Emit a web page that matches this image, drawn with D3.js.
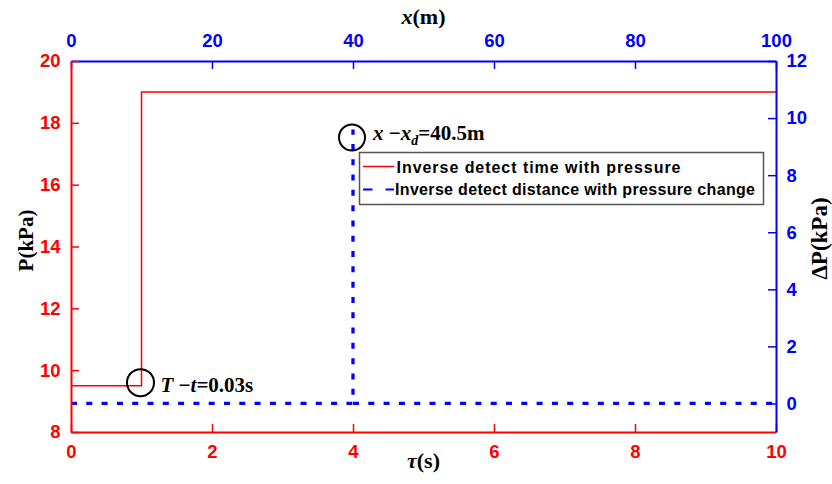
<!DOCTYPE html>
<html><head><meta charset="utf-8">
<script src="https://cdn.jsdelivr.net/npm/d3@7/dist/d3.min.js"></script>
<style>body{margin:0;background:#fff}svg{display:block}</style>
</head><body>
<svg id="c" width="832" height="484"></svg>
<script>
// ---- data ----
const tauValues = [0, 1, 1, 10];          // τ (s)
const pValues = [9.5, 9.5, 19, 19];       // P (kPa)
const distValues = [0, 40, 40, null, 40, 100];   // x (m)
const dpValues = [0, 0, 9.6, null, 0, 0];        // ΔP (kPa)
const tauTicks = [0, 2, 4, 6, 8, 10];
const tauMinor = [1, 3, 5, 7, 9];
const distTicks = [0, 20, 40, 60, 80, 100];
const distMinor = [10, 30, 50, 70, 90];
const pTicks = [8, 10, 12, 14, 16, 18, 20];
const pMinor = [9, 11, 13, 15, 17, 19];
const dpTicks = [0, 2, 4, 6, 8, 10, 12];
const dpMinor = [-1, 1, 3, 5, 7, 9, 11];
const legendLabels = ["Inverse detect time with pressure", "Inverse detect distance with pressure change"];

const RED = "#ff0000", BLUE = "#0000ff";
const L = 71, R = 776, T = 61, B = 432;
const svg = d3.select("#c");

const xTau = d3.scaleLinear().domain([0, 10]).range([L, R]);
const xM = d3.scaleLinear().domain([0, 100]).range([L, R]);
const yP = d3.scaleLinear().domain([8, 20]).range([B, T]);
const yD = d3.scaleLinear().domain([-1, 12]).range([B, T]);

const tickFont = "bold 18.5px 'Liberation Sans', Arial, sans-serif";

function drawAxis(axisFn, scale, ticks, minor, color, transform, pad) {
  const g = svg.append("g").attr("transform", transform);
  g.call(axisFn(scale).tickValues(minor).tickSize(-4).tickFormat(""));
  g.call(axisFn(scale).tickValues(ticks).tickSizeInner(-8).tickSizeOuter(0).tickPadding(pad).tickFormat(d3.format("d")));
  g.selectAll("path.domain").attr("stroke", color).attr("stroke-width", 2);
  g.selectAll(".tick line").attr("stroke", color).attr("stroke-width", 1.5);
  g.selectAll(".tick text").attr("fill", color).style("font", tickFont);
  return g;
}

// lines first (under axes)
const redLine = d3.line().x((d, i) => xTau(tauValues[i])).y((d, i) => yP(pValues[i]));
svg.append("path").attr("d", redLine(tauValues)).attr("fill", "none")
  .attr("stroke", RED).attr("stroke-width", 1.5);

const blueLine = d3.line().defined((d, i) => distValues[i] !== null)
  .x((d, i) => xM(distValues[i])).y((d, i) => yD(dpValues[i]));
svg.append("path").attr("d", blueLine(distValues)).attr("fill", "none")
  .attr("stroke", BLUE).attr("stroke-width", 3.3).attr("stroke-dasharray", "6,9.3");

drawAxis(d3.axisBottom, xTau, tauTicks, tauMinor, RED, `translate(0,${B})`, 12.5);
drawAxis(d3.axisTop, xM, distTicks, distMinor, BLUE, `translate(0,${T})`, 14.5);
drawAxis(d3.axisLeft, yP, pTicks, pMinor, RED, `translate(${L},0)`, 10.5);
drawAxis(d3.axisRight, yD, dpTicks, dpMinor, BLUE, `translate(${R},0)`, 10.5);

// axis titles
const serif = "'Liberation Serif', 'Times New Roman', serif";
const tx = svg.append("text").attr("x", (L + R) / 2).attr("y", 24).attr("text-anchor", "middle")
  .style("font-family", serif).style("font-weight", "bold").style("font-size", "22px");
tx.append("tspan").style("font-style", "italic").text("x");
tx.append("tspan").text("(m)");

const tt = svg.append("text").attr("x", (L + R) / 2).attr("y", 468).attr("text-anchor", "middle")
  .style("font-family", serif).style("font-weight", "bold").style("font-size", "22px");
tt.append("tspan").style("font-style", "italic").text("τ");
tt.append("tspan").text("(s)");

svg.append("text").attr("transform", `translate(33,${(T + B) / 2 - 6}) rotate(-90)`).attr("text-anchor", "middle")
  .style("font-family", serif).style("font-weight", "bold").style("font-size", "21px").text("P(kPa)");
svg.append("text").attr("transform", `translate(827,${(T + B) / 2 - 8}) rotate(-90)`).attr("text-anchor", "middle")
  .style("font-family", serif).style("font-weight", "bold").style("font-size", "23px").text("ΔP(kPa)");

// annotations
const c1x = xTau(tauValues[1]) - 1, c1y = yP(pValues[1]) - 3;
svg.append("circle").attr("cx", c1x).attr("cy", c1y).attr("r", 13.5)
  .attr("fill", "none").attr("stroke", "#000").attr("stroke-width", 2);
const a1 = svg.append("text").attr("x", c1x + 20).attr("y", c1y + 9)
  .style("font-family", serif).style("font-weight", "bold").style("font-size", "21px");
a1.append("tspan").style("font-style", "italic").text("T ");
a1.append("tspan").text("−");
a1.append("tspan").style("font-style", "italic").text("t");
a1.append("tspan").text("=0.03s");

const c2x = xM(distValues[2]) - 1, c2y = yD(dpValues[2]) + 8;
svg.append("circle").attr("cx", c2x).attr("cy", c2y).attr("r", 13)
  .attr("fill", "none").attr("stroke", "#000").attr("stroke-width", 2);
const a2 = svg.append("text").attr("x", c2x + 21).attr("y", c2y + 3)
  .style("font-family", serif).style("font-weight", "bold").style("font-size", "21px");
a2.append("tspan").style("font-style", "italic").text("x ");
a2.append("tspan").text("−");
a2.append("tspan").style("font-style", "italic").text("x");
a2.append("tspan").style("font-style", "italic").style("font-size", "14px").attr("dy", 5).text("d");
a2.append("tspan").attr("dy", -5).text("=40.5m");

// legend
const lg = svg.append("g");
lg.append("rect").attr("x", 359.5).attr("y", 152.5).attr("width", 404).attr("height", 52)
  .attr("fill", "#fff").attr("stroke", "#555").attr("stroke-width", 1.5);
lg.append("line").attr("x1", 363).attr("x2", 394).attr("y1", 166.5).attr("y2", 166.5)
  .attr("stroke", RED).attr("stroke-width", 1.5);
lg.append("line").attr("x1", 363).attr("x2", 394).attr("y1", 189.5).attr("y2", 189.5)
  .attr("stroke", BLUE).attr("stroke-width", 2).attr("stroke-dasharray", "9.5,13");
const legFont = "bold 16px 'Liberation Sans', Arial, sans-serif";
lg.append("text").attr("x", 396.5).attr("y", 172.5).style("font", legFont).attr("fill", "#000")
  .attr("textLength", 284).attr("lengthAdjust", "spacing").text(legendLabels[0]);
lg.append("text").attr("x", 395).attr("y", 194.5).style("font", legFont).attr("fill", "#000")
  .attr("textLength", 360).attr("lengthAdjust", "spacing").text(legendLabels[1]);
</script>
</body></html>
